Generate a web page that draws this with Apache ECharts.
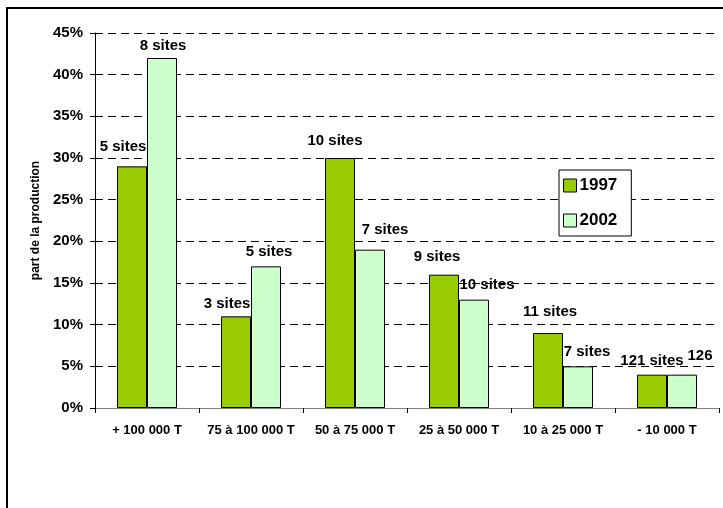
<!DOCTYPE html>
<html>
<head>
<meta charset="utf-8">
<script src="https://cdn.jsdelivr.net/npm/echarts@6/dist/echarts.min.js"></script>
<style>
  html, body { margin: 0; padding: 0; background: #fff; overflow: hidden; }
  #frame { position: absolute; left: 6px; top: 7px; width: 900px; height: 700px;
           border-left: 2px solid #000; border-top: 2px solid #000; }
  #chart { position: absolute; left: 0; top: 0; width: 723px; height: 508px; }
</style>
</head>
<body>
<div id="frame"></div>
<div id="chart"></div>
<script>
// ---- data ----
const categories = ['+ 100 000 T', '75 à 100 000 T', '50 à 75 000 T', '25 à 50 000 T', '10 à 25 000 T', '- 10 000 T'];
const seriesNames = ['1997', '2002'];
const share1997 = [29, 11, 30, 16, 9, 4];
const share2002 = [42, 17, 19, 13, 5, 4];
const sites1997 = [5, 3, 10, 9, 11, 121];
const sites2002 = [8, 5, 7, 10, 7, 126];
const yTicks = [0, 5, 10, 15, 20, 25, 30, 35, 40, 45];

// ---- label placement (layout, not data) ----
const labelShift1997 = [[-9, -7], [-9, 0], [-5, -5], [-7, -5], [2, -9], [0, -1]];
const labelShift2002 = [[1, 0], [3, -2], [15, -7], [13, -2], [9, -2], [18, -6]];

const labelFont = { fontFamily: 'Liberation Sans, Arial, sans-serif', fontWeight: 'bold', fontSize: 15, color: '#000' };

function buildData(values, sites, shifts, clipLast) {
  return values.map((v, i) => ({
    value: v,
    label: {
      offset: shifts[i],
      formatter: (clipLast && i === values.length - 1) ? String(sites[i]) : sites[i] + ' sites'
    }
  }));
}

const chart = echarts.init(document.getElementById('chart'), null, { renderer: 'canvas' });
chart.setOption({
  animation: false,
  backgroundColor: 'transparent',
  grid: { left: 95, right: 4, top: 33, bottom: 100, containLabel: false },
  legend: {
    orient: 'vertical',
    left: 559, top: 170,
    padding: [7, 14, 7, 4],
    itemGap: 18,
    itemWidth: 13, itemHeight: 13,
    icon: 'rect',
    borderColor: '#000', borderWidth: 1,
    backgroundColor: '#fff',
    data: seriesNames,
    textStyle: { fontFamily: 'Liberation Sans, Arial, sans-serif', fontWeight: 'bold', fontSize: 17, color: '#000', padding: [0, 0, 0, -2] },
    itemStyle: { borderColor: '#000', borderWidth: 1 }
  },
  xAxis: {
    type: 'category',
    data: categories,
    axisLine: { lineStyle: { color: '#808080', width: 1 } },
    axisTick: { show: true, alignWithLabel: false, length: 5, lineStyle: { color: '#000' } },
    axisLabel: { margin: 16, fontFamily: 'Liberation Sans, Arial, sans-serif', fontWeight: 'bold', fontSize: 13, color: '#000', interval: 0 },
    splitLine: { show: false }
  },
  yAxis: {
    type: 'value',
    min: yTicks[0], max: yTicks[yTicks.length - 1], interval: 5,
    name: 'part de la production',
    nameLocation: 'middle',
    nameGap: 40,
    nameTextStyle: { fontFamily: 'Liberation Sans, Arial, sans-serif', fontWeight: 'bold', fontSize: 12, color: '#000' },
    axisLine: { show: true, lineStyle: { color: '#000', width: 1 } },
    axisTick: { show: true, length: 5, lineStyle: { color: '#000' } },
    axisLabel: { formatter: '{value}%', margin: 12, fontFamily: 'Liberation Sans, Arial, sans-serif', fontWeight: 'bold', fontSize: 15, color: '#000' },
    splitLine: { show: true, lineStyle: { color: '#000', type: [8, 5], width: 1 } }
  },
  series: [
    {
      name: seriesNames[0], type: 'bar', barWidth: 30, barGap: '0%',
      itemStyle: { color: '#99cc00', borderColor: '#000', borderWidth: 1 },
      label: Object.assign({ show: true, position: 'top', distance: 5 }, labelFont),
      data: buildData(share1997, sites1997, labelShift1997, false),
      z: 3
    },
    {
      name: seriesNames[1], type: 'bar', barWidth: 30, barGap: '0%',
      itemStyle: { color: '#ccffcc', borderColor: '#000', borderWidth: 1 },
      label: Object.assign({ show: true, position: 'top', distance: 5 }, labelFont),
      data: buildData(share2002, sites2002, labelShift2002, true),
      z: 3
    }
  ]
});
</script>
</body>
</html>
